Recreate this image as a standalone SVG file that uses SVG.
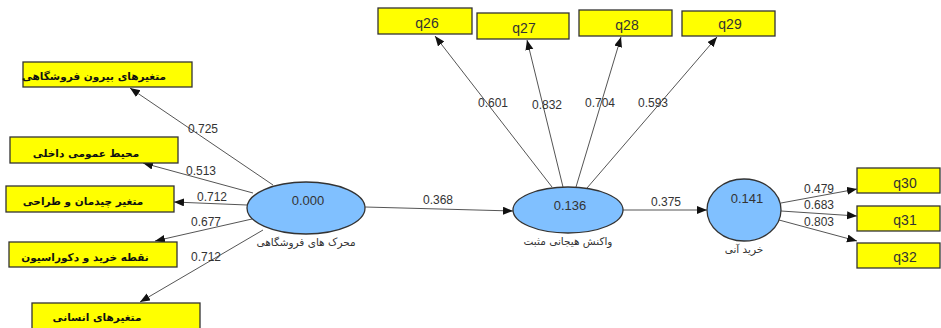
<svg xmlns="http://www.w3.org/2000/svg" width="941" height="328" viewBox="0 0 941 328">
<defs>
<marker id="ah" markerWidth="11" markerHeight="9" refX="10" refY="4" orient="auto" markerUnits="userSpaceOnUse"><path d="M0,0 L10,4 L0,8 z" fill="#111"/></marker>
<style>
.box{fill:#ffff00;stroke:#333;stroke-width:1.3}
.lv{fill:#80c0ff;stroke:#333;stroke-width:1.3}
.fa{font-family:"DejaVu Sans",sans-serif;font-weight:bold;font-size:10.5px;fill:#111;text-anchor:middle}
.lab{font-family:"DejaVu Sans",sans-serif;font-size:10.5px;fill:#333;text-anchor:middle}
.q{font-family:"Liberation Sans",Arial,sans-serif;font-size:14px;fill:#333;text-anchor:middle}
.r2{font-family:"Liberation Sans",Arial,sans-serif;font-size:13px;fill:#333;text-anchor:middle}
.c{font-family:"Liberation Sans",Arial,sans-serif;font-size:12px;fill:#333;text-anchor:middle}
.ln{stroke:#555;stroke-width:1;fill:none;marker-end:url(#ah)}
</style>
</defs>
<rect width="941" height="328" fill="#fff"/>
<g id="connectors">
<line class="ln" x1="273" y1="185" x2="130" y2="88"/>
<line class="ln" x1="253" y1="193" x2="143" y2="163"/>
<line class="ln" x1="247" y1="205" x2="174" y2="202"/>
<line class="ln" x1="252" y1="219" x2="155" y2="241"/>
<line class="ln" x1="263" y1="230" x2="140" y2="302"/>
<line class="ln" x1="365" y1="207" x2="513" y2="211"/>
<line class="ln" x1="623" y1="210" x2="707" y2="210"/>
<line class="ln" x1="552" y1="187" x2="435" y2="36"/>
<line class="ln" x1="563" y1="187" x2="527" y2="40"/>
<line class="ln" x1="576" y1="187" x2="621" y2="37"/>
<line class="ln" x1="587" y1="188" x2="717" y2="37"/>
<line class="ln" x1="781" y1="203" x2="857" y2="189"/>
<line class="ln" x1="781" y1="211" x2="857" y2="216"/>
<line class="ln" x1="779" y1="220" x2="857" y2="241"/>
<text class="c" x="203" y="133">0.725</text>
<text class="c" x="201" y="175">0.513</text>
<text class="c" x="212" y="201">0.712</text>
<text class="c" x="206" y="226">0.677</text>
<text class="c" x="206" y="261">0.712</text>
<text class="c" x="438" y="204">0.368</text>
<text class="c" x="666" y="206">0.375</text>
<text class="c" x="493" y="107">0.601</text>
<text class="c" x="547" y="109">0.832</text>
<text class="c" x="600" y="107">0.704</text>
<text class="c" x="653" y="107">0.593</text>
<text class="c" x="819" y="193">0.479</text>
<text class="c" x="819" y="209">0.683</text>
<text class="c" x="819" y="226">0.803</text>
</g>
<g id="b1"><rect class="box" x="23" y="62" width="169" height="25"/><text class="fa" x="94" y="80">متغیرهای بیرون فروشگاهی</text></g>
<g id="b2"><rect class="box" x="10" y="137" width="168" height="26"/><text class="fa" x="86" y="157">محیط عمومی داخلی</text></g>
<g id="b3"><rect class="box" x="6" y="186" width="168" height="26"/><text class="fa" x="83" y="205">متغیر چیدمان و طراحی</text></g>
<g id="b4"><rect class="box" x="9" y="242" width="168" height="25"/><text class="fa" x="85" y="261">نقطه خرید و دکوراسیون</text></g>
<g id="b5"><rect class="box" x="32" y="303" width="168" height="28"/><text class="fa" x="97" y="321">متغیرهای انسانی</text></g>
<g id="lv1"><ellipse class="lv" cx="306" cy="208" rx="59" ry="26"/><text class="r2" x="308" y="205">0.000</text><text class="lab" x="306" y="246">محرک های فروشگاهی</text></g>
<g id="lv2"><ellipse class="lv" cx="568" cy="210" rx="55" ry="23"/><text class="r2" x="570" y="210">0.136</text><text class="lab" x="568" y="245">واکنش هیجانی مثبت</text></g>
<g id="lv3"><ellipse class="lv" cx="744" cy="210" rx="37" ry="31"/><text class="r2" x="747" y="203">0.141</text><text class="lab" x="744" y="253">خرید آنی</text></g>
<g id="q26"><rect class="box" x="378" y="8" width="94" height="26"/><text class="q" x="427" y="28">q26</text></g>
<g id="q27"><rect class="box" x="477" y="13" width="92" height="26"/><text class="q" x="524" y="33">q27</text></g>
<g id="q28"><rect class="box" x="579" y="10" width="93" height="26"/><text class="q" x="627" y="30">q28</text></g>
<g id="q29"><rect class="box" x="682" y="11" width="93" height="25"/><text class="q" x="730" y="29">q29</text></g>
<g id="q30"><rect class="box" x="857" y="168" width="83" height="25"/><text class="q" x="905" y="188">q30</text></g>
<g id="q31"><rect class="box" x="857" y="206" width="83" height="25"/><text class="q" x="905" y="225">q31</text></g>
<g id="q32"><rect class="box" x="857" y="243" width="83" height="25"/><text class="q" x="905" y="262">q32</text></g>
</svg>
